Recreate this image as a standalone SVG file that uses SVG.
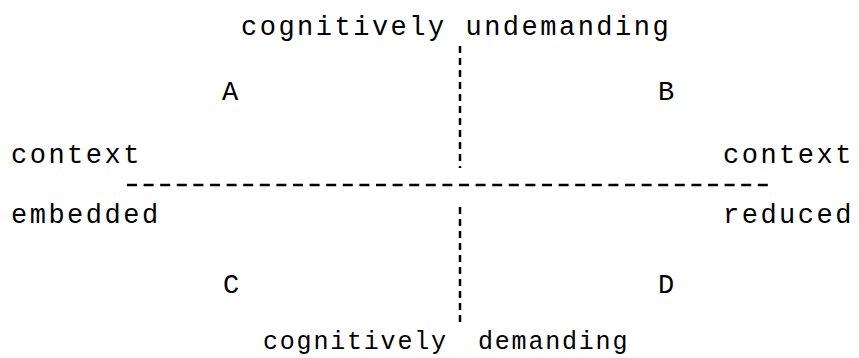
<svg xmlns="http://www.w3.org/2000/svg" width="859" height="358" viewBox="0 0 859 358">
<style>
text { font-family: "Liberation Mono", "DejaVu Sans Mono", monospace; font-size: 27px; letter-spacing: 2.5px; fill: #000; }
.narrow { font-size: 25px; letter-spacing: 1.8px; }
.dash { stroke: #000; stroke-width: 2.5; fill: none; }
</style>
<rect width="859" height="358" fill="#fff"/>
<g id="connectors">
<line class="dash" x1="460" y1="46" x2="460" y2="168" stroke-dasharray="7 5"/>
<line class="dash" x1="460" y1="207" x2="460" y2="326" stroke-dasharray="7 5"/>
<line class="dash" x1="127" y1="185" x2="772" y2="185" stroke-dasharray="10 6.6"/>
</g>
<g id="top-label"><text x="241" y="35">cognitively undemanding</text></g>
<g id="bottom-label"><text class="narrow" y="349"><tspan x="263">cognitively</tspan><tspan x="478">demanding</tspan></text></g>
<g id="quadrant-A"><text x="222" y="100">A</text></g>
<g id="quadrant-B"><text x="658" y="100">B</text></g>
<g id="quadrant-C"><text x="223" y="293">C</text></g>
<g id="quadrant-D"><text x="658" y="293">D</text></g>
<g id="left-label"><text x="11" y="163">context</text><text x="11" y="223">embedded</text></g>
<g id="right-label"><text x="723" y="163">context</text><text x="723" y="223">reduced</text></g>
</svg>
